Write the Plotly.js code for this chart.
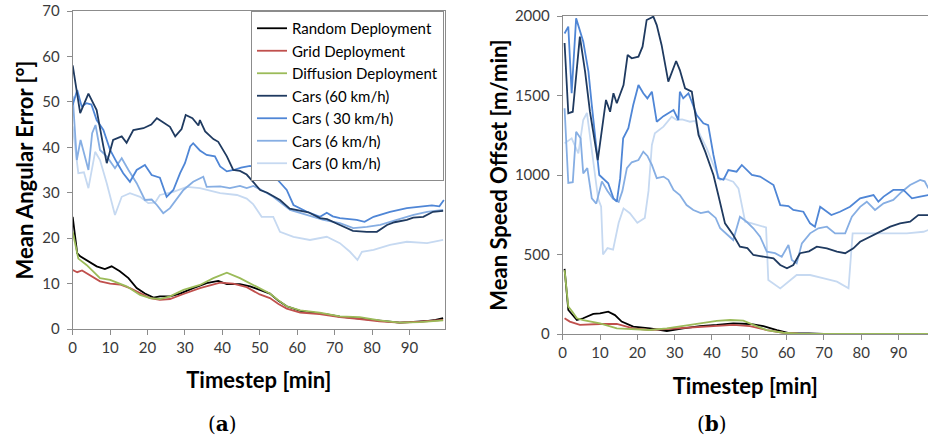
<!DOCTYPE html>
<html>
<head>
<meta charset="utf-8">
<script src="https://cdn.plot.ly/plotly-3.0.1.min.js"></script>
<style>html,body{margin:0;padding:0;background:#fff;}#chart{width:928px;height:441px;}</style>
</head>
<body>
<div id="chart"></div>
<script>
// ---------- Series names ----------
const seriesNames = ["Random Deployment","Grid Deployment","Diffusion Deployment","Cars (60 km/h)","Cars ( 30 km/h)","Cars (6 km/h)","Cars (0 km/h)"];
const seriesColors = ["#000000","#c0504d","#9bbb59","#1f3a60","#4f86d6","#86aee3","#c6d9f1"];

// ---------- (a) Mean Angular Error [°] ----------
const aRandomT = [0,1.2,2,3.7,5,6.4,8.6,10.4,12.6,14.9,17.1,19.3,21.6,23.3,26,28.7,32.2,35.8,38.9,41.2,44.7,47.4,50,52.7,55,57.2,60.8,63,66.1,68,71.4,74,76.7,79,82.1,85,87.4,90,92.8,95,97,99];
const aRandomV = [24.7,16.7,16,15.2,14.5,13.8,13.2,13.8,12.7,11.2,9,7.8,6.9,7.2,7.2,7.8,9,10.1,10.6,9.9,9.9,9.4,8.6,7.8,6.2,5,4,3.8,3.5,3.2,2.7,2.5,2.3,2.1,1.8,1.6,1.4,1.5,1.6,1.8,2,2.4];
const aGridT = [0,1.2,2.5,4.6,7.3,10,12.6,15.3,18,20.7,23.3,26,29.6,34,39.4,42.9,46.5,50,52.7,55,57.2,60.8,66,71.4,76.7,82,87.4,92.8,99];
const aGridV = [13,12.5,12.9,11.9,10.5,10,9.8,9,7.9,6.8,6.4,6.6,7.7,9,10.2,10,9.2,7.6,6.8,5.5,4.5,3.6,3.3,2.6,2.2,1.7,1.4,1.6,2.0];
const aDiffT = [0,1.5,3.7,7.3,10,14.4,18,20.7,23.3,26,29.6,34,37.6,41.2,44.7,48,50,52.7,55,57.2,60.8,66,71.4,76.7,82,87.4,92.8,99];
const aDiffV = [21.4,15.5,14.1,11.2,10.8,9.4,7.5,6.8,6.6,7.2,8.6,9.7,11.2,12.4,11.2,9.8,9,7.8,6.3,5,4.1,3.6,2.8,2.6,1.9,1.4,1.5,1.9];
const aCars60T = [0,2,4.2,6.4,8.2,9.1,10.8,13.1,14.4,16.2,18.9,21,22.5,24.2,26,27.4,29.1,30.2,32,33.6,34,35.4,37.6,38.9,41.2,42.9,44.7,46.5,48.3,50.1,52,55.4,58,60.8,63,66.1,68,71.4,74.9,78.6,81.3,84,86,89.3,91,93.7,96.3,99];
const aCars60V = [58,47.5,51.8,48.2,40.2,36.5,41.6,42.4,41,43.8,44.2,45,46.4,45.5,44.5,42.4,44,47.1,46.4,44.8,46,43.5,41.8,41.2,38,35,34.8,34,32.3,30.6,30,28.4,26.5,26,25.7,24.4,24.2,22.9,21.6,21.4,21.4,22.9,23.5,24,24.5,24.7,25.8,26];
const aCars30T = [0,1.2,2.4,3.7,5,6.4,8.2,10,11.7,13.5,15.3,17.1,19.3,21.1,23.3,25.1,26.9,28.7,30,31.4,32.2,34,35.8,38,39.4,41.2,43,45,47.4,50,53.6,57.2,59,62.6,66.1,67.9,69.5,71.4,75.9,78,80.4,84.8,89.3,93.7,96,98,99.2];
const aCars30V = [49.3,52.6,49,49.7,49.4,46,43.8,39.4,36.8,34.3,32.4,35,36.1,33.9,33.3,29.1,30.6,34.3,36.5,40.2,40.9,39.3,38.3,38,35.8,34.7,35,35.5,35.9,35.2,33.9,30.6,27.3,25.8,24.7,25.6,24.8,24.4,24,23.6,24.7,25.8,26.6,27,27.2,27,28.4];
const aCars6T = [0,1.1,2.1,4.2,5.2,6.1,7.3,9.1,11.3,13.1,14.9,17.1,19.3,21.1,22.5,24.2,26,27.8,29.6,32.2,34.9,35.8,39.4,42,44.7,46.5,48.3,50,53.6,58.1,62.6,67,71.4,75,78.6,82.2,86.6,91.1,94.7,99];
const aCars6V = [51.2,37.2,41.6,35,43.1,44.9,39.4,38,35.4,37.6,35,32.1,28.4,28.5,27.3,25.5,26.6,28.5,30.6,32.4,33.5,31.3,31.4,31,31.5,31,31.5,30.8,29.1,26.2,25.1,24,23.3,22.2,22.5,22.9,24,25.1,25.8,26.2];
const aCars0T = [0,1.5,3,4.2,6,7.3,9.1,11.3,13.1,15.3,18,20.2,22,23.3,26.9,30.5,34,39.4,43.9,46.5,48.2,50.5,53.6,55.4,59,63.4,67.9,71.4,74.1,76.1,77.3,80.4,84.8,89.3,94.7,99];
const aCars0V = [44.6,34.3,34.5,31,39,37.2,32.1,25.1,29.1,29.9,29.1,27.7,27.8,29.5,30.2,31.3,31,29.9,29.5,28.7,27.5,24.7,24.7,21.4,20.3,19.6,20.3,18.9,17,15.2,17,17.4,18.5,19.2,18.9,19.6];

// ---------- (b) Mean Speed Offset [m/min] ----------
const bRandomT = [0.5,1.5,3.8,5.5,8.2,10,12.2,14,15.8,18.9,23.4,27.9,32.3,36.8,41.3,45.7,50.2,53.8,57.4,60.9,66,70,80,90,98];
const bRandomV = [410,151,88,99,126,130,140,119,78,46,36,19,36,50,57,67,63,50,25,4,4,0,0,0,0];
const bGridT = [0.5,1.9,4.6,10,14.5,18.9,23.4,27.9,32.3,36.8,41.3,45.7,50.2,54.7,59.1,63,70,80,90,98];
const bGridV = [99,78,57,63,63,36,25,31,36,46,50,57,50,25,8,2,0,0,0,0];
const bDiffT = [0.5,1.5,2.6,3.8,5.5,10,14.5,18.9,23.4,27.9,32.3,36.8,41.3,44.9,48.4,51.1,54.7,59.1,63,70,80,90,98];
const bDiffV = [402,172,140,99,88,67,36,30,25,36,50,63,82,88,84,57,25,8,2,0,0,0,0];
const bCars60T = [0.5,1.5,2.7,4.6,6,7.3,9.4,10.5,11.6,12.7,13.6,14.5,16.3,17.4,18.5,20.3,21.4,22.5,24.3,25.2,26.5,28.3,30.4,31.4,32.8,34.6,36.4,38.2,40.4,41.7,43.5,45.7,47.5,49.5,51.1,52.9,56.5,58.3,60.1,61.8,63.6,66,68.1,70.8,73.5,75.7,77.9,79.7,82.4,85.1,87.8,90.4,93.1,95.3,98];
const bCars60V = [1830,1388,1398,1870,1650,1398,1094,1272,1472,1398,1514,1451,1566,1755,1734,1744,1807,1975,1996,1943,1818,1587,1717,1660,1545,1524,1252,1147,1000,874,696,623,549,540,497,490,476,434,413,434,508,520,549,539,518,508,539,580,612,643,675,696,706,748,748];
const bCars30T = [0.5,1.5,2.4,3.6,5.5,6.9,7.8,8.7,9.8,12.2,13.6,14.5,15.4,16.2,17.6,18.9,20.3,21.6,22.7,23.9,25.2,27,29.7,31,31.4,32.3,33.7,34.6,35.9,37.7,39,40.4,41.7,43.1,44.4,46.6,48,50.7,52.9,56.5,58.3,60.5,61.8,64.5,66.3,67.6,69,72,74.3,77,79.7,83.3,84.6,86,88.6,91.3,93.6,95.8,98];
const bCars30V = [1890,1933,1514,1985,1840,1650,1440,1231,1000,948,853,832,980,1231,1294,1440,1566,1514,1482,1524,1335,1370,1409,1346,1524,1482,1514,1461,1377,1325,1314,1126,980,970,1031,1021,1063,1000,990,937,811,805,780,769,696,675,800,748,769,800,853,874,832,864,906,906,853,864,874];
const bCars6T = [0.5,1.5,2.7,3.6,4.8,5.5,6.6,7.8,9,10.5,12,13.5,15,16,17.2,18.5,20.3,21.6,22.7,23.9,25.2,27,28.3,29.7,31.4,33.2,35,37,39,41,42.2,45.7,47.5,49.3,51.1,52.9,54.7,56.9,58.7,60.5,61.4,62.7,64.1,66.3,68.5,70.8,73,75.7,77.5,79.7,81.5,83.7,86,88.6,90.9,93.1,95.8,97,98];
const bCars6V = [1420,950,955,1272,1231,1010,1043,853,820,960,900,850,830,900,1043,1080,1094,1147,1120,1063,980,990,970,906,874,811,780,760,770,730,665,591,738,706,665,612,518,508,486,560,465,444,570,633,665,675,633,633,738,800,832,780,822,843,895,937,969,960,916];
const bCars0T = [0.5,2.4,4.2,5.5,6.5,8.2,9.5,10.3,10.8,12,13.5,15,16.3,18,20,22,23,23.9,24.7,27,29.2,30.6,32,34.1,35.5,36.8,38.6,40.4,42.2,43.1,45.7,47.1,48.9,50.7,53.8,54.5,55.1,58.3,62.7,66.3,70,73.5,76.6,77.7,80,86.9,92.2,96.7,98];
const bCars0V = [1199,1231,1136,1346,1390,1080,850,800,500,540,530,700,790,760,700,730,900,1189,1262,1304,1367,1346,1350,1335,1340,1252,1168,1063,969,980,958,916,706,696,675,670,340,287,371,371,350,329,287,633,633,633,633,643,654];

const aTicks = [0,10,20,30,40,50,60,70,80,90];
const aYTicks = [0,10,20,30,40,50,60,70];
const bYTicks = [0,500,1000,1500,2000];

const aSeries = [[aRandomT,aRandomV],[aGridT,aGridV],[aDiffT,aDiffV],[aCars60T,aCars60V],[aCars30T,aCars30V],[aCars6T,aCars6V],[aCars0T,aCars0V]];
const bSeries = [[bRandomT,bRandomV],[bGridT,bGridV],[bDiffT,bDiffV],[bCars60T,bCars60V],[bCars30T,bCars30V],[bCars6T,bCars6V],[bCars0T,bCars0V]];

// draw order: light lines under dark ones
const drawOrder = [6,5,4,3,0,1,2];
const traces = [];
drawOrder.forEach(i => {
  traces.push({x: aSeries[i][0], y: aSeries[i][1], type:'scatter', mode:'lines', name: seriesNames[i],
    line:{color: seriesColors[i], width: 1.8}, xaxis:'x', yaxis:'y', legendgroup:'g'+i, legendrank: i, showlegend:true, hoverinfo:'skip'});
});
drawOrder.forEach(i => {
  traces.push({x: bSeries[i][0], y: bSeries[i][1], type:'scatter', mode:'lines', name: seriesNames[i],
    line:{color: seriesColors[i], width: 1.8}, xaxis:'x2', yaxis:'y2', legendgroup:'g'+i, showlegend:false, hoverinfo:'skip'});
});

const tickFont = {family:'Lato, "Open Sans", sans-serif', size:15, color:'#3a3a3a'};
const titleFont = {family:'Lato, "Open Sans", sans-serif', size:22, color:'#000'};
const axCommon = {showgrid:false, zeroline:false, showline:true, linecolor:'#8c8c8c', linewidth:1,
  ticks:'outside', ticklen:5, tickcolor:'#8c8c8c', tickfont:tickFont, fixedrange:true};

const W = 928, H = 441;
const layout = {
  width: W, height: H,
  margin:{l:0,r:0,t:0,b:0},
  paper_bgcolor:'#fff', plot_bgcolor:'#fff',
  showlegend:true,
  legend:{x:251/W, y:1-11/H, xanchor:'left', yanchor:'top', bgcolor:'#fff', bordercolor:'#8c8c8c', borderwidth:1,
    font:{family:'Lato, "Open Sans", sans-serif', size:15, color:'#000'}, traceorder:'grouped', tracegroupgap:0, itemwidth:30},
  xaxis: Object.assign({}, axCommon, {domain:[72.7/W, 445/W], range:[0,99.5], tickvals:aTicks, mirror:true, anchor:'y',
    title:{text:'<b>Timestep [min]</b>', font:titleFont, standoff:17}}),
  yaxis: Object.assign({}, axCommon, {domain:[1-329/H, 1-11/H], range:[0,70], tickvals:aYTicks, mirror:true, anchor:'x',
    ticklabelstandoff:4, title:{text:'<b>Mean Angular Error [°]</b>', font:titleFont, standoff:2}}),
  xaxis2: Object.assign({}, axCommon, {domain:[562.7/W, 1], range:[0,97.9], tickvals:aTicks, mirror:true, anchor:'y2',
    title:{text:'<b>Timestep [min]</b>', font:titleFont, standoff:18}}),
  yaxis2: Object.assign({}, axCommon, {domain:[1-334/H, 1-16/H], range:[0,2000], tickvals:bYTicks, mirror:false, anchor:'x2',
    ticklabelstandoff:4, title:{text:'<b>Mean Speed Offset [m/min]</b>', font:titleFont, standoff:1}}),
  annotations:[
    {text:'(<b>a</b>)', xref:'paper', yref:'paper', x:222/W, y:1-424/H, xanchor:'center', yanchor:'middle', showarrow:false,
      font:{family:'"DejaVu Serif", "Liberation Serif", serif', size:20, color:'#000'}},
    {text:'(<b>b</b>)', xref:'paper', yref:'paper', x:712/W, y:1-424/H, xanchor:'center', yanchor:'middle', showarrow:false,
      font:{family:'"DejaVu Serif", "Liberation Serif", serif', size:20, color:'#000'}}
  ]
};

Plotly.newPlot('chart', traces, layout, {staticPlot:true, displayModeBar:false});
</script>
</body>
</html>
